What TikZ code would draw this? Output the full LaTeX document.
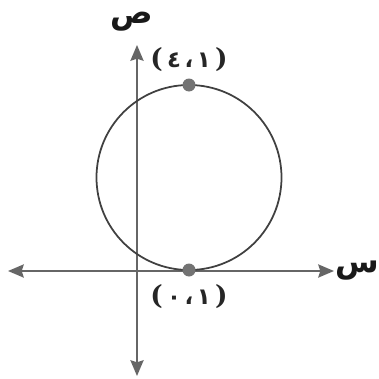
\documentclass[tikz,border=0pt]{standalone}
\usepackage{fontspec}
\newfontfamily\arabicfont[Script=Arabic]{DejaVu Sans}
\newfontfamily\parenfont{DejaVu Serif}
\usetikzlibrary{arrows.meta}
% one glyph per box keeps the visual order of the pair
\newcommand{\pairtext}[2]{\hbox{\parenfont\fontsize{15}{17}\selectfont(}\kern2.5pt\hbox{#1}\kern2pt\hbox{،}\kern2pt\hbox{#2}\kern2.5pt\hbox{\parenfont\fontsize{15}{17}\selectfont)}}

\begin{document}
\begin{tikzpicture}[
    x=0.02cm, y=-0.02cm,
    axisline/.style={draw=black!60, line width=1.1pt,
                 {Stealth[length=9pt, width=7.5pt, inset=1.2pt]}-{Stealth[length=9pt, width=7.5pt, inset=1.2pt]}},
    curve/.style={draw=black!75, line width=1pt},
    pointdot/.style={circle, fill=black!55, inner sep=0pt, minimum size=0.26cm},
    coordlabel/.style={font=\arabicfont\bfseries\fontsize{13}{15}\selectfont, text=black!85},
    axislabel/.style={font=\arabicfont\bfseries\fontsize{18}{20}\selectfont, text=black!90}
]
\useasboundingbox (0,0) rectangle (379,379);

% axes
\coordinate (xleft) at (8,271);
\coordinate (xright) at (334,271);
\coordinate (ytop) at (137,45);
\coordinate (ybottom) at (137,376);
\draw[axisline] (xleft) -- (xright);
\draw[axisline] (ybottom) -- (ytop);
\node[axislabel, anchor=east, inner sep=0pt] (xname) at (379,271) {س};
\node[axislabel, inner sep=0pt] (yname) at (132,22) {ص};

% circle through the two points
\coordinate (centre) at (189,177.5);
\draw[curve] (centre) circle [radius=92.5];
\node[pointdot] (top) at (189,85) {};
\node[pointdot] (bottom) at (189,270) {};
\node[coordlabel] (toplabel) at (189,60) {\pairtext{٤}{١}};
\node[coordlabel] (bottomlabel) at (189,297) {\pairtext{٠}{١}};
\end{tikzpicture}
\end{document}
